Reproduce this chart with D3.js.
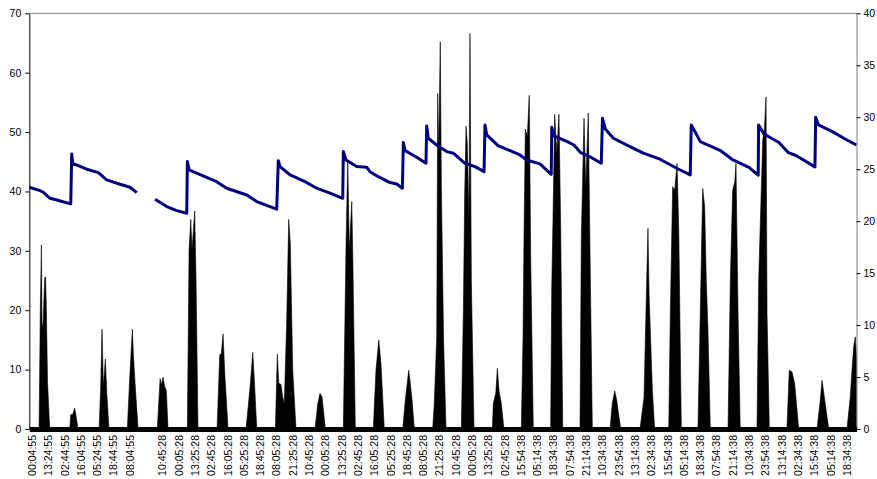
<!DOCTYPE html>
<html>
<head>
<meta charset="utf-8">
<script src="https://cdn.jsdelivr.net/npm/d3@7"></script>
<style>
  body { margin: 0; background: #fff; }
  text { font-family: "Liberation Sans", Arial, sans-serif; }
</style>
</head>
<body>
<svg id="chart" width="877" height="479"></svg>
<script>
// x axis labels, one every 800 minutes (13h20) -- slot 7 has no label
var slotLabels = ["00:04:55","13:24:55","02:44:55","16:04:55","05:24:55","18:44:55","08:04:55","",
  "10:45:28","00:05:28","13:25:28","02:45:28","16:05:28","05:25:28","18:45:28","08:05:28","21:25:28",
  "10:45:28","00:05:28","13:25:28","02:45:28","16:05:28","05:25:28","18:45:28","08:05:28","21:25:28",
  "10:45:28","00:05:28","13:25:28","02:45:28",
  "15:54:38","05:14:38","18:34:38","07:54:38","21:14:38","10:34:38","23:54:38","13:14:38","02:34:38",
  "15:54:38","05:14:38","18:34:38","07:54:38","21:14:38","10:34:38","23:54:38","13:14:38","02:34:38",
  "15:54:38","05:14:38","18:34:38"];
var slotHours = 800 / 60;

var leftTicks = [0, 10, 20, 30, 40, 50, 60, 70];
var rightTicks = [0, 5, 10, 15, 20, 25, 30, 35, 40];

// black area, left axis: [hours since first sample, value]
var radiation = [
  [-2,0],
  [6.0,0],[7.0,20],[7.9,31],[8.4,18],[9.2,17],[10.6,25.5],[11.3,25.6],[11.9,21],[12.9,8],[14.7,0],
  [31.1,0],[31.9,2.5],[33.2,2.3],[35.2,3.5],[37.9,0],
  [55.1,0],[56.4,7.1],[57.5,16.8],[58.6,7.1],[60.2,11.8],[61.4,6],[63.2,0],
  [78.2,0],[80.2,8.8],[82.3,16.8],[83.1,12.7],[84.7,7.1],[87.0,0],
  [102.7,0],[105.0,8.5],[106.0,7.4],[107.4,8.7],[108.8,7.1],[110.1,6.5],[111.5,0],
  [127.3,0],[128.7,30.1],[130.1,35.3],[131.1,30.1],[133.3,36.7],[134.4,25.1],[136.0,0],
  [151.6,0],[153.8,12.5],[155.1,12.7],[156.5,16],[157.9,9.4],[160.6,0],
  [175.3,0],[178.6,7.1],[180.8,12.9],[182.1,8.2],[184.1,0],
  [199.3,0],[200.9,12.6],[202.1,7.7],[203.9,7.5],[205.3,5.4],[206.6,4.3],[208.6,18.3],[210.2,35.3],[211.5,31.3],[213.5,9.9],[216.2,0],
  [231.7,0],[234.0,4.3],[235.8,6],[237.5,5.4],[240.2,0],
  [254.9,0],[257.1,30.7],[258.5,45.3],[259.8,30.1],[261.8,38.3],[262.6,29.5],[264.7,0],
  [279.4,0],[281.6,9.9],[283.9,15],[285.7,11],[288.4,0],
  [303.5,0],[305.6,4.9],[308.4,9.9],[309.5,8],[311.1,4.9],[313.0,0],
  [328.0,0],[329.3,4.3],[331.3,15.5],[332.1,56.5],[332.9,46.4],[334.2,65.2],[335.1,40.8],[336.9,15],[338.9,0],
  [351.4,0],[353.1,20],[354.2,39.7],[355.3,51],[356.3,48.1],[357.7,35.2],[358.5,66.6],[359.6,25.1],[361.8,0],
  [376.8,0],[377.6,4.3],[379.6,6],[380.9,10.2],[382.3,6.4],[384.1,4.3],[386.3,0],
  [400.5,0],[401.9,15.5],[402.7,32.4],[403.8,50.5],[405.4,49.2],[407.0,56.2],[408.2,28.4],[410.3,0],
  [424.5,0],[425.4,24],[426.4,35.1],[427.8,53],[429.5,46.4],[431.3,53],[432.7,34.1],[434.4,0],
  [448.5,0],[449.6,32.4],[451.8,52.3],[453.2,40.8],[455.3,53.2],[456.7,29.6],[458.6,0],
  [473.1,0],[474.9,4.3],[476.9,6.4],[478.5,4.9],[481.8,0],
  [497.6,0],[500.9,5.4],[502.3,18.3],[504.1,33.8],[505.0,22.8],[507.7,6.6],[509.6,0],
  [521.1,0],[522.4,19.5],[524.3,40.8],[526.0,40.2],[527.9,44.7],[529.3,33.5],[531.4,0],
  [545.0,0],[546.9,19.5],[548.9,40.5],[550.5,37.4],[551.8,25.1],[553.2,16.7],[555.1,0],
  [569.6,0],[571.5,25.1],[573.4,40.2],[575.1,41.6],[576.1,44.7],[577.8,19.5],[579.6,0],
  [593.3,0],[594.7,25.1],[596.0,34.6],[598.0,48.7],[599.3,50.3],[600.7,55.9],[601.5,19.5],[603.4,0],
  [617.8,0],[619.7,9.9],[621.9,9.6],[624.1,7.7],[627.4,0],
  [642.4,0],[645.1,4.9],[646.5,8.2],[648.7,4.9],[652.0,0],
  [666.9,0],[669.6,5.4],[671.0,9.9],[672.4,13.9],[673.7,15.5],[674.7,12]
];

// blue line, right axis. null = missing data
var temperature = [
  [-2.0,23.26],[6.8,22.94],[9.5,22.78],[15.0,22.2],[20.5,22.04],[31.9,21.66],
  [32.7,26.47],[33.5,25.57],[45.0,25.0],[54.5,24.67],[61.3,23.97],[72.2,23.55],[80.4,23.26],[85.9,22.74],
  [93,null],
  [100.9,22.11],[110.4,21.4],[118.6,21.01],[126.8,20.76],
  [127.3,25.73],[128.7,24.93],[136.3,24.54],[151.3,23.8],[159.5,23.17],[175.9,22.52],[184.0,21.88],[200.4,21.15],
  [201.7,25.82],[203.1,25.25],[211.3,24.45],[223.6,23.8],[233.1,23.17],[244.0,22.69],[254.4,22.2],
  [254.9,26.69],[257.1,25.89],[265.8,25.25],[274.0,25.19],[276.7,24.76],[283.5,24.28],[293.1,23.71],[298.6,23.58],[303.2,23.17],
  [304.0,27.56],[305.4,26.79],[314.9,26.15],[322.5,25.57],
  [323.1,29.16],[324.4,27.98],[331.3,27.33],[339.5,26.69],[344.9,26.54],[354.4,25.57],[362.6,25.25],[370.0,24.76],
  [370.8,29.26],[372.2,28.3],[381.7,27.24],[391.3,26.79],[399.4,26.37],[404.9,25.89],[415.8,25.51],[425.0,24.51],
  [425.4,29.04],[427.2,28.2],[438.1,27.65],[443.6,27.33],[449.1,26.59],[457.3,26.15],[465.9,25.57],
  [466.9,29.9],[469.2,28.87],[475.8,27.98],[489.4,27.17],[500.3,26.54],[513.9,25.96],[527.6,25.09],[538.7,24.45],
  [539.5,29.26],[542.6,28.61],[546.9,27.65],[563.0,26.82],[573.7,25.89],[586.7,25.17],[594.3,24.42],
  [594.6,29.26],[599.0,28.39],[611.3,27.57],[619.0,26.59],[625.2,26.32],[640.7,25.22],
  [641.3,30.0],[643.6,29.26],[655.0,28.61],[666.1,27.86],[674.7,27.33]
];

// plot box (window.top is reserved, so no bare "top")
var svg = d3.select('#chart'),
    plot = { left: 29.3, right: 856.5, top: 13.3, bottom: 429 };

var x = d3.scaleLinear().domain([-2, 674.7]).range([plot.left, plot.right]),
    yL = d3.scaleLinear().domain([0, 70]).range([plot.bottom, plot.top]),
    yR = d3.scaleLinear().domain([0, 40]).range([plot.bottom, plot.top]);

// area first, line goes on top
var area = d3.area()
    .x(function(d){ return x(d[0]); })
    .y0(yL(0))
    .y1(function(d){ return yL(d[1]); });

svg.append('path')
    .datum(radiation)
    .attr('d', area)
    .attr('fill', '#000')
    .attr('stroke', '#000')
    .attr('stroke-width', 0.6);

var line = d3.line()
    .defined(function(d){ return d[1] != null; })
    .x(function(d){ return x(d[0]); })
    .y(function(d){ return yR(d[1]); });

svg.append('path')
    .datum(temperature)
    .attr('d', line)
    .attr('fill', 'none')
    .attr('stroke', '#000080')
    .attr('stroke-width', 3)
    .attr('stroke-linejoin', 'round');

// top border of plot area
svg.append('line')
    .attr('x1', plot.left).attr('x2', plot.right)
    .attr('y1', plot.top).attr('y2', plot.top)
    .attr('stroke', '#808080');

// left axis
var gL = svg.append('g')
    .attr('transform', 'translate(' + plot.left + ',0)')
    .call(d3.axisLeft(yL).tickValues(leftTicks).tickSize(4).tickPadding(4).tickSizeOuter(0));
gL.select('.domain').attr('stroke', '#000');

// right axis
var gR = svg.append('g')
    .attr('transform', 'translate(' + plot.right + ',0)')
    .call(d3.axisRight(yR).tickValues(rightTicks).tickSize(4).tickPadding(3).tickSizeOuter(0));
gR.select('.domain').attr('stroke', '#808080');

// bottom axis, thick black base line + rotated labels
var gX = svg.append('g')
    .attr('transform', 'translate(0,' + plot.bottom + ')')
    .call(d3.axisBottom(x)
        .tickValues(slotLabels.map(function(s, i){ return i * slotHours; }))
        .tickFormat(function(d, i){ return slotLabels[i]; })
        .tickSize(0).tickSizeOuter(0));
gX.select('.domain').attr('stroke', '#000').attr('stroke-width', 5);
gX.selectAll('.tick text')
    .attr('transform', 'rotate(-90)')
    .attr('x', -6)
    .attr('y', 0)
    .attr('dy', '0.35em')
    .style('text-anchor', 'end');

svg.selectAll('.tick text')
    .style('font-size', '10.5px')
    .attr('fill', '#000');
svg.selectAll('.tick line').attr('stroke', '#000');
</script>
</body>
</html>
